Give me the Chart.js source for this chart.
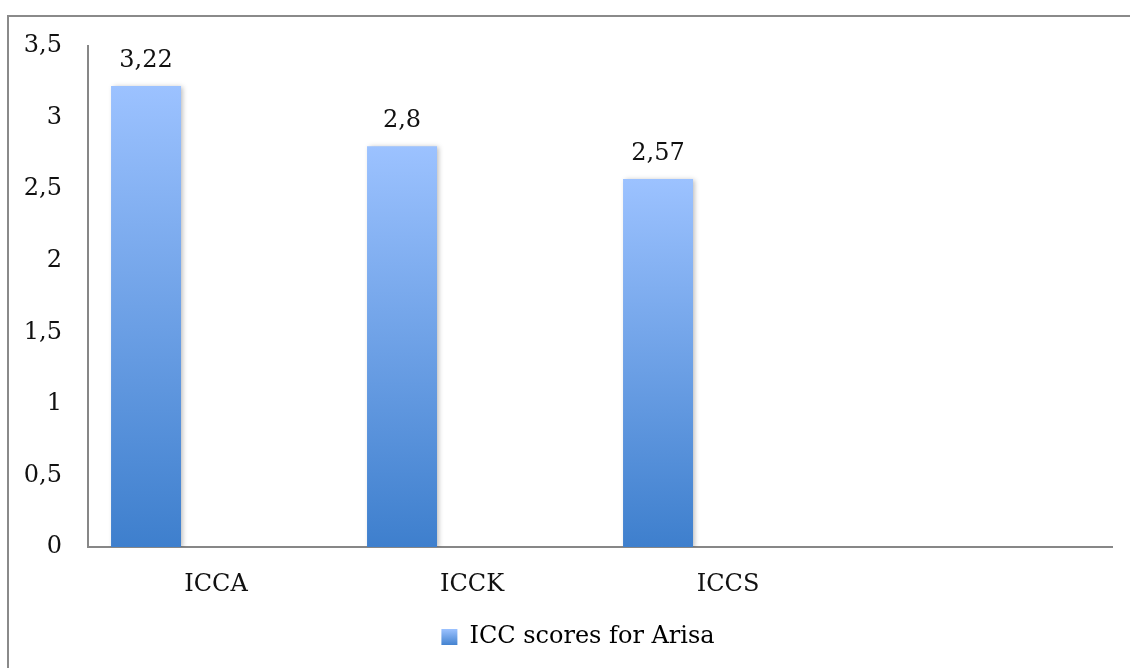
<!DOCTYPE html>
<html>
<head>
<meta charset="utf-8">
<script src="https://cdn.jsdelivr.net/npm/chart.js@4.4.1/dist/chart.umd.min.js"></script>
<style>
  html, body { margin: 0; padding: 0; background: #ffffff; }
  #wrap { width: 1130px; height: 668px; position: relative; }
</style>
</head>
<body>
<div id="wrap"><canvas id="chart" width="1130" height="668"></canvas></div>
<script>
// ICC scores per category
const categories = ['ICCA', 'ICCK', 'ICCS', ''];
const arisaScores = [3.22, 2.8, 2.57, null];
const seriesName = 'ICC scores for Arisa';
// two unused series slots that share each category group
const spareSeriesA = [null, null, null, null];
const spareSeriesB = [null, null, null, null];
const yTicks = [0, 0.5, 1, 1.5, 2, 2.5, 3, 3.5];

const FONT = '"DejaVu Serif", "Liberation Serif", serif';
const TOP_BLUE = '#9cc2ff';
const BOTTOM_BLUE = '#3e7fcd';

const fmt = v => String(v).replace('.', ',');

// vertical gradient per bar, from its top down to the baseline
function barGradient(ctx) {
  const chart = ctx.chart;
  const y = chart.scales.y;
  if (!chart.chartArea || !y || ctx.raw == null) return BOTTOM_BLUE;
  const top = y.getPixelForValue(ctx.raw);
  const base = y.getPixelForValue(0);
  const g = chart.ctx.createLinearGradient(0, top, 0, base);
  g.addColorStop(0, TOP_BLUE);
  g.addColorStop(1, BOTTOM_BLUE);
  return g;
}

// outer frame lines along the top and left edge
const framePlugin = {
  id: 'frame',
  beforeDraw(chart) {
    const c = chart.ctx;
    c.save();
    c.strokeStyle = '#8a8a8a';
    c.lineWidth = 2;
    c.beginPath();
    c.moveTo(8, 668);
    c.lineTo(8, 16);
    c.lineTo(1130, 16);
    c.stroke();
    c.restore();
  }
};

// legend sits a little right of the canvas centre
const legendShiftPlugin = {
  id: 'legendShift',
  afterLayout(chart) {
    const lg = chart.legend;
    if (!lg) return;
    lg.left += 18;
    lg.right += 18;
  }
};

// soft shadow behind the bars
const shadowPlugin = {
  id: 'barShadow',
  beforeDatasetsDraw(chart) {
    const c = chart.ctx;
    c.save();
    c.shadowColor = 'rgba(0,0,0,0.28)';
    c.shadowBlur = 5;
    c.shadowOffsetX = 2;
    c.shadowOffsetY = 1;
  },
  afterDatasetsDraw(chart) {
    chart.ctx.restore();
  }
};

// value labels above each bar
const valueLabelPlugin = {
  id: 'valueLabels',
  afterDatasetsDraw(chart) {
    const c = chart.ctx;
    const meta = chart.getDatasetMeta(0);
    c.save();
    c.font = '24px ' + FONT;
    c.fillStyle = '#111111';
    c.textAlign = 'center';
    c.textBaseline = 'alphabetic';
    meta.data.forEach((el, i) => {
      const v = arisaScores[i];
      if (v == null) return;
      c.fillText(fmt(v), el.x, el.y - 19);
    });
    c.restore();
  }
};

function legendBox(chart) {
  const g = chart.ctx.createLinearGradient(0, 629, 0, 646);
  g.addColorStop(0, TOP_BLUE);
  g.addColorStop(1, BOTTOM_BLUE);
  return g;
}

new Chart(document.getElementById('chart'), {
  type: 'bar',
  data: {
    labels: categories,
    datasets: [
      { label: seriesName, data: arisaScores, backgroundColor: barGradient, borderWidth: 0 },
      { label: '', data: spareSeriesA, backgroundColor: 'rgba(0,0,0,0)' },
      { label: '', data: spareSeriesB, backgroundColor: 'rgba(0,0,0,0)' }
    ]
  },
  options: {
    responsive: false,
    animation: false,
    devicePixelRatio: 1,
    categoryPercentage: 0.82,
    barPercentage: 1.0,
    layout: { padding: { left: 8, right: 18, top: 46, bottom: 9 } },
    plugins: {
      tooltip: { enabled: false },
      legend: {
        position: 'bottom',
        labels: {
          font: { family: FONT, size: 24 },
          color: '#111111',
          boxWidth: 16,
          boxHeight: 16,
          padding: 10,
          generateLabels(chart) {
            return [{
              text: seriesName,
              fillStyle: legendBox(chart),
              strokeStyle: 'rgba(0,0,0,0)',
              lineWidth: 0,
              hidden: false,
              datasetIndex: 0
            }];
          }
        }
      }
    },
    scales: {
      x: {
        grid: { display: false, drawTicks: false },
        border: { display: true, color: '#878787', width: 2 },
        ticks: { font: { family: FONT, size: 24 }, color: '#111111', padding: 23, maxRotation: 0 },
        afterFit(scale) { scale.height = 68; }
      },
      y: {
        min: 0,
        max: 3.5,
        afterBuildTicks(scale) { scale.ticks = yTicks.map(v => ({ value: v })); },
        grid: { display: false, drawTicks: false },
        border: { display: true, color: '#878787', width: 2 },
        ticks: {
          font: { family: FONT, size: 24 },
          color: '#111111',
          padding: 26,
          callback: v => fmt(v)
        },
        afterFit(scale) { scale.width = 80; }
      }
    }
  },
  plugins: [framePlugin, legendShiftPlugin, shadowPlugin, valueLabelPlugin]
});
</script>
</body>
</html>
